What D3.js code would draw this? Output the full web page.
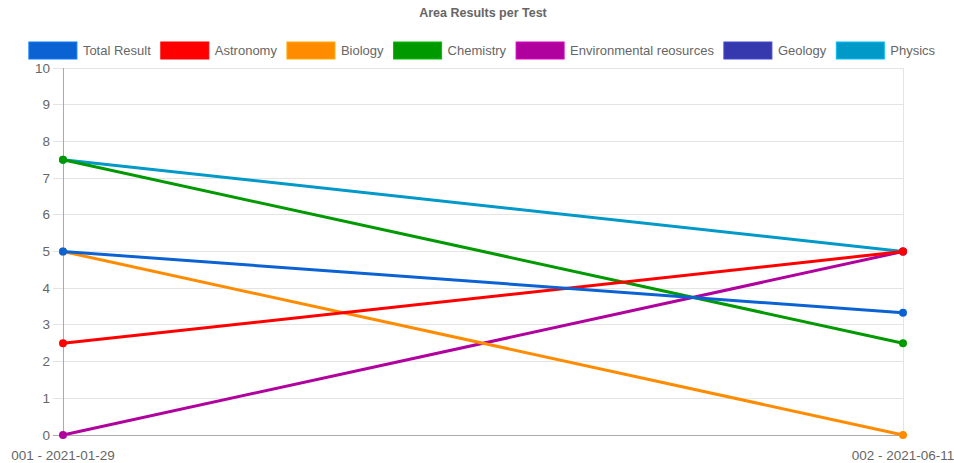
<!DOCTYPE html>
<html>
<head>
<meta charset="utf-8">
<script src="https://cdn.jsdelivr.net/npm/d3@7"></script>
<style>
  body { margin: 0; background: #fff; }
  svg text { font-family: "Liberation Sans", Arial, Helvetica, sans-serif; fill: #666; }
</style>
</head>
<body>
<svg id="chart" width="954" height="463"></svg>
<script>
// data
const tests = ["001 - 2021-01-29", "002 - 2021-06-11"];
const seriesNames = ["Total Result", "Astronomy", "Biology", "Chemistry", "Environmental reosurces", "Geology", "Physics"];
const seriesColors = ["#0b62d3", "#ff0000", "#ff8c00", "#009a00", "#b0009e", "#3539ad", "#0099c8"];
const totalResult = [5, 3.33];
const astronomy = [2.5, 5];
const biology = [5, 0];
const chemistry = [7.5, 2.5];
const environmental = [0, 5];
const geology = [null, null];
const physics = [7.5, 5];
const yTicks = [0, 1, 2, 3, 4, 5, 6, 7, 8, 9, 10];

const seriesValues = [totalResult, astronomy, biology, chemistry, environmental, geology, physics];
const datasets = seriesNames.map((name, i) => ({name: name, color: seriesColors[i], values: seriesValues[i]}));

const svg = d3.select("svg#chart");
const width = +svg.attr("width");
const margin = {left: 63, right: 51, top: 68, bottom: 28};
const plotRight = width - margin.right;
const plotBottom = 463 - margin.bottom;

const x = d3.scalePoint().domain(tests).range([margin.left, plotRight]);
const y = d3.scaleLinear().domain([0, 10]).range([plotBottom, margin.top]);

// title
svg.append("text")
    .attr("x", 483).attr("y", 17)
    .attr("text-anchor", "middle")
    .attr("font-size", "12.5px").attr("font-weight", "bold")
    .text("Area Results per Test");

// legend
const legend = svg.append("g").attr("class", "legend");
const boxW = 48, boxH = 17, gapBox = 6, gapItem = 10;
const items = legend.selectAll("g.item").data(datasets).join("g").attr("class", "item");
items.append("rect")
    .attr("width", boxW).attr("height", boxH)
    .attr("fill", d => d.color)
    .attr("stroke", d => d3.color(d.color).brighter(0.6)).attr("stroke-width", 1);
items.append("text")
    .attr("x", boxW + gapBox).attr("y", boxH / 2)
    .attr("dominant-baseline", "central")
    .attr("font-size", "13px")
    .text(d => d.name);
let widths = [];
items.each(function() { widths.push(boxW + gapBox + d3.select(this).select("text").node().getComputedTextLength()); });
const totalW = d3.sum(widths) + gapItem * (widths.length - 1);
let cx = 482 - totalW / 2;
items.attr("transform", (d, i) => {
    const t = `translate(${cx},42)`;
    cx += widths[i] + gapItem;
    return t;
});

// grid
const grid = svg.append("g").attr("class", "grid");
grid.selectAll("line.h").data(yTicks).join("line").attr("class", "h")
    .attr("x1", margin.left - 10).attr("x2", plotRight)
    .attr("y1", d => y(d)).attr("y2", d => y(d))
    .attr("stroke", d => d === 0 ? "#aaa" : "#e4e4e4").attr("stroke-width", 1)
    .attr("shape-rendering", "crispEdges");
grid.selectAll("line.v").data(tests).join("line").attr("class", "v")
    .attr("x1", d => x(d)).attr("x2", d => x(d))
    .attr("y1", margin.top).attr("y2", plotBottom)
    .attr("stroke", (d, i) => i === 0 ? "#aaa" : "#e4e4e4").attr("stroke-width", 1)
    .attr("shape-rendering", "crispEdges");

// y axis labels
svg.append("g").selectAll("text").data(yTicks).join("text")
    .attr("x", margin.left - 13).attr("y", d => y(d))
    .attr("text-anchor", "end").attr("dominant-baseline", "central")
    .attr("font-size", "13.5px")
    .text(d => d);

// x axis labels
svg.append("g").selectAll("text").data(tests).join("text")
    .attr("x", d => x(d)).attr("y", plotBottom + 20)
    .attr("text-anchor", "middle").attr("dominant-baseline", "central")
    .attr("font-size", "13.5px")
    .text(d => d);

// lines, first dataset drawn on top
const line = d3.line()
    .defined(d => d.v !== null)
    .x(d => x(d.t)).y(d => y(d.v));
const drawOrder = datasets.slice().reverse();
const series = svg.append("g").selectAll("g.series").data(drawOrder).join("g").attr("class", "series");
series.append("path")
    .attr("d", d => line(d.values.map((v, i) => ({t: tests[i], v: v}))))
    .attr("fill", "none").attr("stroke", d => d.color).attr("stroke-width", 3);
series.selectAll("circle")
    .data(d => d.values.map((v, i) => ({t: tests[i], v: v, color: d.color})).filter(p => p.v !== null))
    .join("circle")
    .attr("cx", d => x(d.t)).attr("cy", d => y(d.v)).attr("r", 4)
    .attr("fill", d => d.color);
</script>
</body>
</html>
